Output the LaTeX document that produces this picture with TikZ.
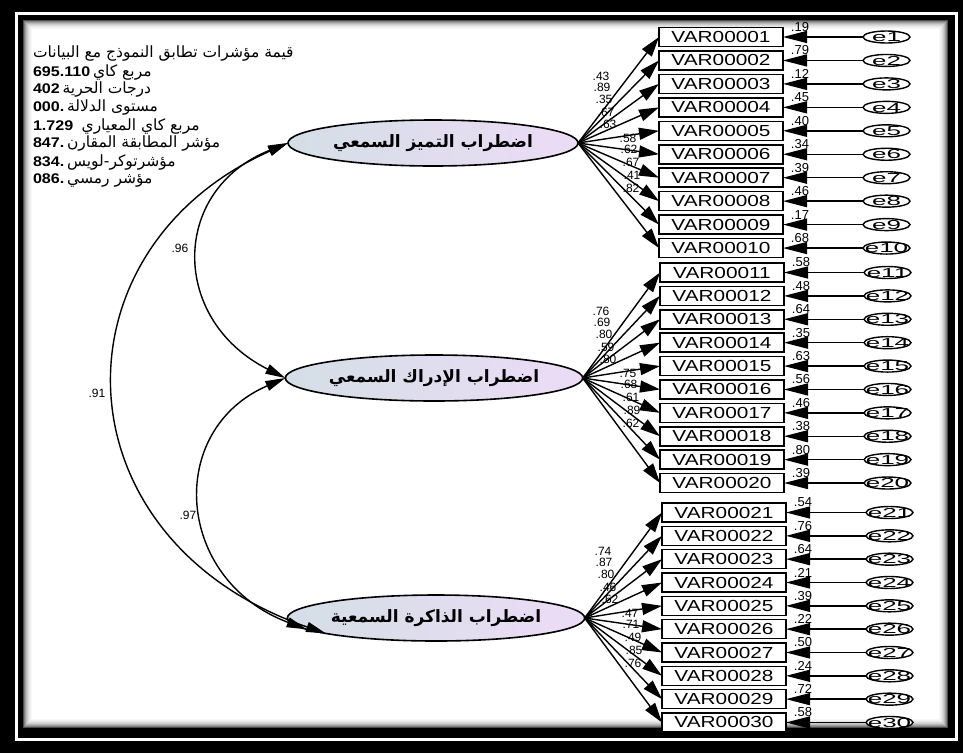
\documentclass[tikz,border=0pt]{standalone}
\usepackage{fontspec}
\usepackage{graphicx}
\setmainfont{Liberation Sans}
\newfontfamily\arabicfont[Script=Arabic]{DejaVu Sans}
\TeXXeTstate=1
\usetikzlibrary{arrows.meta,shapes.geometric}
\definecolor{latL}{RGB}{212,222,230}
\definecolor{latR}{RGB}{236,220,246}
\newcommand{\numtxt}[1]{{\fontsize{14}{14}\selectfont\bfseries\scalebox{1.15}[1]{#1}}}
\newcommand{\artxt}[1]{{\arabicfont\fontsize{15.5}{15.5}\selectfont\beginR #1\endR}}
\begin{document}
\begin{tikzpicture}[x=1pt,y=-1pt,
 every node/.style={inner sep=0pt,outer sep=0pt},
 obs/.style={draw,line width=1.6pt,fill=white,minimum width=124pt,minimum height=19pt,font=\fontsize{16}{16}\selectfont},
 err/.style={draw,ellipse,line width=1.4pt,fill=white,minimum width=47pt,minimum height=12pt,font=\fontsize{13}{13}\selectfont},
 lat/.style={draw,ellipse,line width=1.6pt,left color=latL,right color=latR,minimum width=290pt,minimum height=46pt},
 ld/.style={line width=1.4pt,-{Triangle[length=20pt,width=12pt]}},
 ea/.style={line width=1.4pt,-{Triangle[length=24pt,width=12pt]}},
 cov/.style={line width=1.4pt,{Triangle[length=20pt,width=10pt]}-{Triangle[length=20pt,width=10pt]}},
 lbl/.style={font=\fontsize{12}{12}\selectfont},
 rsq/.style={font=\fontsize{13}{13}\selectfont},
 info/.style={anchor=west},
]
\useasboundingbox (0,0) rectangle (963,753);
% frame
\fill[black] (0,0) rectangle (963,753);
\fill[white] (15,12) rectangle (958,741);
\fill[black] (18,15) rectangle (955,738);
\fill[white] (23,20) rectangle (948,728);
\foreach \i/\c in {0.5/70,1.5/50,2.5/38,3.5/28,4.5/20,5.5/14,6.5/9,7.5/6,8.5/3}
  \draw[line width=1pt,black!\c] ({23+\i},{20+\i}) rectangle ({948-\i},{728-\i});

% fit indices
\node[info] (t1) at (33,54) {\artxt{قيمة مؤشرات تطابق النموذج مع البيانات}};
\node[info] (t2) at (33,72) {\numtxt{695.110}\ \artxt{مربع كاي}};
\node[info] (t3) at (33,89) {\numtxt{402}\ \artxt{درجات الحرية}};
\node[info] (t4) at (33,107) {\numtxt{000.}\ \artxt{مستوى الدلالة}};
\node[info] (t5) at (33,126) {\numtxt{1.729}\ \ \ \artxt{مربع كاي المعياري}};
\node[info] (t6) at (33,143) {\numtxt{847.}\ \artxt{مؤشر المطابقة المقارن}};
\node[info] (t7) at (33,162) {\numtxt{834.}\ \artxt{مؤشرتوكر-لويس}};
\node[info] (t8) at (33,180) {\numtxt{086.}\ \artxt{مؤشر رمسي}};

% latent variables
\node[lat] (L1) at (433,143) {\arabicfont\bfseries\fontsize{17}{17}\selectfont\beginR اضطراب التميز السمعي\endR};
\node[lat] (L2) at (434,378) {\arabicfont\bfseries\fontsize{17}{17}\selectfont\beginR اضطراب الإدراك السمعي\endR};
\node[lat] (L3) at (436,618) {\arabicfont\bfseries\fontsize{17}{17}\selectfont\beginR اضطراب الذاكرة السمعية\endR};

% observed variables and errors
\foreach \i/\r in {1/.19,2/.79,3/.12,4/.45,5/.40,6/.34,7/.39,8/.46,9/.17,10/.68,
                   11/.58,12/.48,13/.64,14/.35,15/.63,16/.56,17/.46,18/.38,19/.80,20/.39,
                   21/.54,22/.76,23/.64,24/.21,25/.39,26/.22,27/.50,28/.24,29/.72,30/.58} {
  \pgfmathsetmacro{\yy}{\i<=10 ? 37+23.45*(\i-1) : (\i<=20 ? 272.5+23.39*(\i-11) : 512.5+23.33*(\i-21))}
  \pgfmathsetmacro{\xs}{\i<=10 ? 0 : (\i<=20 ? 1 : 3)}
  \node[obs] (v\i) at ({721+\xs},\yy) {\scalebox{1.3}[1]{\ifnum\i<10 VAR0000\i\else VAR000\i\fi}};
  \node[err] (e\i) at ({886.5+\xs},\yy) {\makebox[0pt]{\smash{\raisebox{-4.7pt}{\scalebox{2}[1]{e\i}}}}};
  \draw[ea] (e\i) -- (v\i);
  \node[rsq] (r\i) at ({800+\xs},{\yy-10}) {\r};
  \pgfmathtruncatemacro{\grp}{\i<=10 ? 1 : (\i<=20 ? 2 : 3)}
  \draw[ld] (L\grp.east) -- (v\i.west);
}

% loadings
\foreach \v/\dx/\dy [count=\k] in {.43/23/-67,.89/24/-56,.35/26/-44,.67/28/-31,.63/30/-19,.58/50/-5,.62/51/6,.67/53/19,.41/54/32,.82/53/45}
  \node[lbl] (a\k) at ({578+\dx},{143+\dy}) {\v};
\foreach \v/\dx/\dy [count=\k] in {.76/23/-67,.69/24/-56,.80/26/-44,.59/28/-31,.80/30/-19,.75/50/-5,.68/51/6,.61/53/19,.89/54/32,.62/53/45}
  \node[lbl] (b\k) at ({578+\dx},{378+\dy}) {\v};
\foreach \v/\dx/\dy [count=\k] in {.74/23/-67,.87/24/-56,.80/26/-44,.46/28/-31,.62/30/-19,.47/50/-5,.71/51/6,.49/53/19,.85/54/32,.76/53/45}
  \node[lbl] (c\k) at ({580+\dx},{618+\dy}) {\v};

% covariances
\draw[cov] (L1.west) .. controls (170,190) and (170,320) .. (L2.west);
\draw[cov] (L2.west) .. controls (165,430) and (175,580) .. (L3.185);
\draw[cov] (L1.west) .. controls (48,250) and (55,540) .. (L3.188);
\node[lbl] (k1) at (180,248) {.96};
\node[lbl] (k2) at (188,515) {.97};
\node[lbl] (k3) at (97,393) {.91};
\end{tikzpicture}
\end{document}
